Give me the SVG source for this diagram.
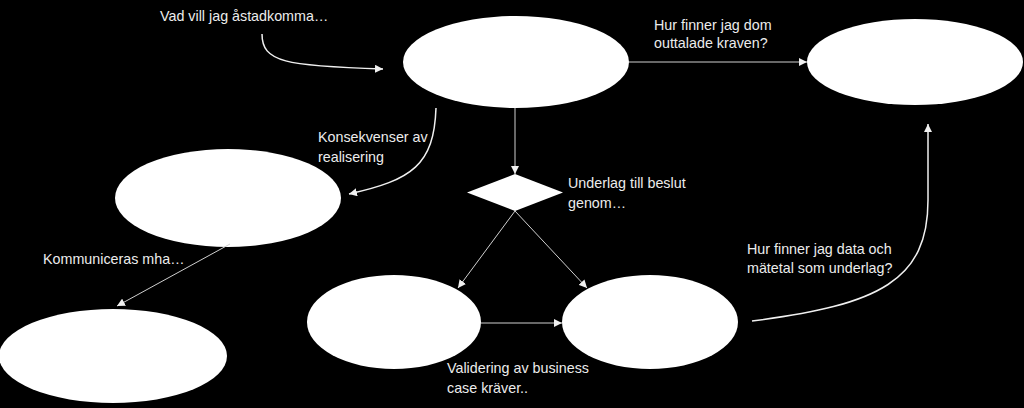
<svg xmlns="http://www.w3.org/2000/svg" width="1024" height="408" viewBox="0 0 1024 408">
<style>
.node{fill:#ffffff;stroke:none}
.ln{fill:none;stroke:#cfcfcf;stroke-width:1}
.cv{fill:none;stroke:#f0f0f0;stroke-width:1.5}
text{font-family:"Liberation Sans",Arial,sans-serif;font-size:14.3px;fill:#ececec}
</style>
<defs>
<marker id="ah" viewBox="0 0 10 10" refX="10" refY="5" markerWidth="8" markerHeight="8" markerUnits="userSpaceOnUse" orient="auto">
<path d="M0,0 L10,5 L0,10 Z" fill="#f0f0f0"/>
</marker>
</defs>
<rect width="1024" height="408" fill="#000000"/>
<g id="n1"><ellipse class="node" cx="516" cy="62" rx="113" ry="46"/></g>
<g id="n2"><ellipse class="node" cx="915" cy="62" rx="108" ry="43"/></g>
<g id="n3"><ellipse class="node" cx="228" cy="198" rx="113" ry="49"/></g>
<g id="n4"><ellipse class="node" cx="113" cy="356" rx="114" ry="47"/></g>
<g id="n5"><ellipse class="node" cx="394" cy="322" rx="87" ry="47"/></g>
<g id="n6"><ellipse class="node" cx="650" cy="322" rx="88" ry="47"/></g>
<g id="d1"><polygon class="node" points="515,174 563,192.5 515,211 467,192.5"/></g>
<g id="connectors">
<path class="cv" d="M262,34 C262,62 285,66 383,69" marker-end="url(#ah)"/>
<path class="ln" d="M629,62 L807,62" marker-end="url(#ah)"/>
<path class="ln" d="M515,108 L515,174" marker-end="url(#ah)"/>
<path class="cv" d="M436,108 C434,165 412,180 349,194" marker-end="url(#ah)"/>
<path class="ln" d="M515,211 L458,288" marker-end="url(#ah)"/>
<path class="ln" d="M515,211 L587,288" marker-end="url(#ah)"/>
<path class="ln" d="M481,323 L562,323" marker-end="url(#ah)"/>
<path class="ln" d="M230,244 L117,306" marker-end="url(#ah)"/>
<path class="cv" d="M752,321 C880,305 928,280 928,200 L928,124" marker-end="url(#ah)"/>
</g>
<g id="labels">
<text x="160" y="21">Vad vill jag åstadkomma…</text>
<text x="654" y="30">Hur finner jag dom</text>
<text x="654" y="48">outtalade kraven?</text>
<text x="318" y="142">Konsekvenser av</text>
<text x="318" y="162">realisering</text>
<text x="568" y="188">Underlag till beslut</text>
<text x="568" y="208">genom…</text>
<text x="43" y="264">Kommuniceras mha…</text>
<text x="747" y="254">Hur finner jag data och</text>
<text x="747" y="273">mätetal som underlag?</text>
<text x="447" y="373">Validering av business</text>
<text x="447" y="393">case kräver..</text>
</g>
</svg>
